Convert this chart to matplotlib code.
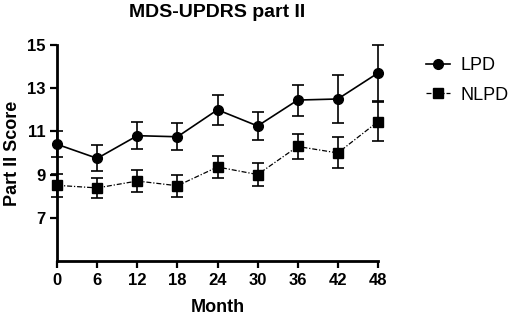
import numpy as np
import matplotlib.pyplot as plt
from matplotlib.lines import Line2D

plt.rcParams['font.family'] = ['Liberation Sans', 'DejaVu Sans']
plt.rcParams['font.weight'] = 'bold'

months = [0, 6, 12, 18, 24, 30, 36, 42, 48]
lpd = [10.4, 9.75, 10.8, 10.75, 12.0, 11.25, 12.45, 12.5, 13.7]
lpd_err = [0.6, 0.6, 0.62, 0.63, 0.7, 0.67, 0.72, 1.1, 1.3]
nlpd = [8.5, 8.38, 8.7, 8.48, 9.35, 9.0, 10.3, 10.0, 11.45]
nlpd_err = [0.53, 0.48, 0.5, 0.52, 0.52, 0.52, 0.6, 0.72, 0.9]

fig = plt.figure(figsize=(5.1, 3.17), dpi=100)
ax = fig.add_axes([0.112, 0.177, 0.629, 0.681])

nlpd_ls = (0, (4, 1.5, 1, 1.5))
ax.errorbar(months, lpd, yerr=lpd_err, color='black', lw=1.2, marker='o',
            ms=7, capsize=4, elinewidth=1.2, capthick=1.2,
            clip_on=False, zorder=3)
ax.errorbar(months, nlpd, yerr=nlpd_err, color='black', lw=0.9, ls=nlpd_ls,
            marker='s', ms=7, capsize=4, elinewidth=1.2, capthick=1.2,
            clip_on=False, zorder=3)

ax.set_xlim(0, 48)
ax.set_ylim(5, 15)
ax.set_xticks(months)
ax.set_yticks([7, 9, 11, 13, 15])
for s in ['top', 'right']:
    ax.spines[s].set_visible(False)
for s in ['left', 'bottom']:
    ax.spines[s].set_linewidth(2)
ax.tick_params(width=1.6, length=5, labelsize=12)
for lab in ax.get_xticklabels() + ax.get_yticklabels():
    lab.set_fontweight('bold')

ax.set_title('MDS-UPDRS part II', fontsize=14, fontweight='bold', pad=20)
ax.set_xlabel('Month', fontsize=13, fontweight='bold', labelpad=8)
ax.set_ylabel('Part II Score', fontsize=13, fontweight='bold', labelpad=4)

handles = [Line2D([], [], color='black', lw=1.2, marker='o', ms=7),
           Line2D([], [], color='black', lw=0.9, ls=nlpd_ls, marker='s', ms=7)]
ax.legend(handles, ['LPD', 'NLPD'], loc='upper left', bbox_to_anchor=(1.1, 1.02),
          frameon=False, handlelength=1.3, handletextpad=0.6, labelspacing=0.7,
          prop={'weight': 'normal', 'size': 13})

fig.savefig('out.png', dpi=100)
